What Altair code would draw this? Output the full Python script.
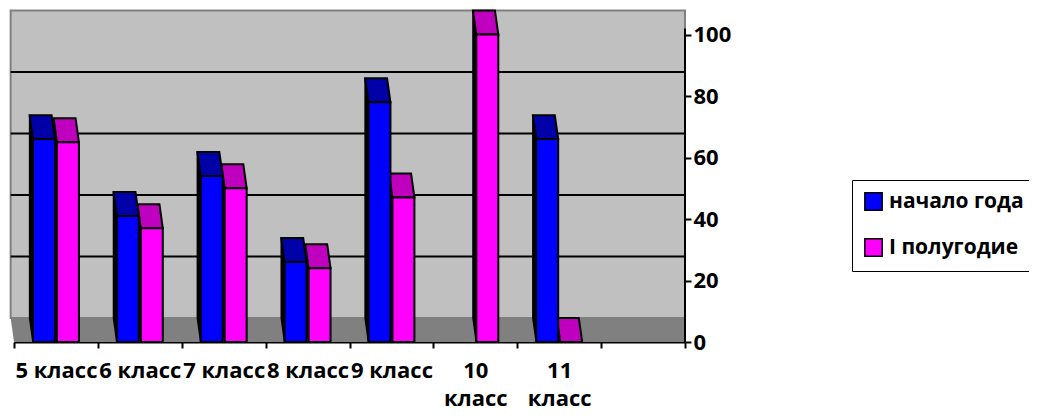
import json
import altair as alt
import pandas as pd

# ---------------- data ----------------
categories = ["5 класс", "6 класс", "7 класс", "8 класс", "9 класс", "10 класс", "11 класс", ""]
series = ["начало года", "I полугодие"]
start_values = [66, 41, 54, 26, 78, None, 66, None]
half_values = [65, 37, 50, 24, 47, 100, 0, None]
y_ticks = [0, 20, 40, 60, 80, 100]

# ---------------- style ----------------
FRONT = {"начало года": "#0000FF", "I полугодие": "#FF00FF"}
TOP = {"начало года": "#0000A8", "I полугодие": "#BF00BF"}
WALL = "#C0C0C0"
FLOOR = "#808080"
FONT = "Open Sans"

W, H = 671, 332
N = len(categories)
Y_MAX = 108
DEPTH_Y = 7.8      # 3-D depth, value units
DEPTH_X = 0.04     # 3-D depth, slot units
BAR_OFF = {"начало года": 0.226, "I полугодие": 0.512}
BAR_W = 0.262
AXIS_TOP = 102

values = {"начало года": start_values, "I полугодие": half_values}

front_rows, cap_rows, side_rows = [], [], []
bid = 0
for s in series:
    for i, v in enumerate(values[s]):
        if v is None:
            continue
        x0 = i + BAR_OFF[s]
        x1 = x0 + BAR_W
        front_rows.append({"series": s, "x0": x0, "x1": x1, "v": v})
        cap_rows.append({"id": bid, "series": s, "y": v, "xa": x0, "xb": x1})
        cap_rows.append({"id": bid, "series": s, "y": v + DEPTH_Y, "xa": x0 - DEPTH_X, "xb": x1 - DEPTH_X})
        side_rows.append({"id": bid, "series": s, "x": x0 - DEPTH_X, "ylo": DEPTH_Y, "yhi": v + DEPTH_Y})
        side_rows.append({"id": bid, "series": s, "x": x0, "ylo": 0, "yhi": v})
        bid += 1

front_df = pd.DataFrame(front_rows)
cap_df = pd.DataFrame(cap_rows)
side_df = pd.DataFrame(side_rows)

wall_df = pd.DataFrame([{"x0": -DEPTH_X, "x1": N, "y0": DEPTH_Y, "y1": y_ticks[-1] + DEPTH_Y}])
floor_df = pd.DataFrame([
    {"y": 0, "xa": 0, "xb": N},
    {"y": DEPTH_Y, "xa": -DEPTH_X, "xb": N},
])
grid_df = pd.DataFrame([{"y": t + DEPTH_Y, "x0": -DEPTH_X, "x1": N} for t in y_ticks[1:-1]])
axis_df = pd.DataFrame([{"x": N, "y0": 0, "y1": AXIS_TOP}])

label_lines = [[c] if len(c) <= 7 else c.split(" ") for c in categories]
label_expr = json.dumps(label_lines, ensure_ascii=False) + "[round(datum.value)]"

xs = alt.Scale(domain=[0, N], nice=False, zero=False)
ys = alt.Scale(domain=[0, Y_MAX], nice=False, zero=False)

X_AXIS = alt.Axis(
    values=list(range(N + 1)), title=None, grid=False,
    domainColor="black", domainWidth=2, tickColor="black", tickWidth=2, tickSize=6,
    labelExpr=label_expr, labelOffset=W / N / 2, labelPadding=12,
    labelFont=FONT, labelFontSize=22, labelFontWeight="bold", labelColor="black",
    labelLineHeight=28, labelOverlap=False, labelFlush=False, labelBound=False,
    labelAlign="center", labelBaseline="top",
)
Y_AXIS = alt.Axis(
    orient="right", values=y_ticks, title=None, grid=False, domain=False,
    tickColor="black", tickWidth=2, tickSize=6, labelPadding=2,
    labelFont=FONT, labelFontSize=22, labelFontWeight="bold", labelColor="black",
)

wall = alt.Chart(wall_df).mark_rect(fill=WALL, stroke="#808080", strokeWidth=2).encode(
    x=alt.X("x0:Q", scale=xs, axis=X_AXIS), x2="x1:Q",
    y=alt.Y("y0:Q", scale=ys, axis=Y_AXIS), y2="y1:Q",
)
floor = alt.Chart(floor_df).mark_area(orient="horizontal", fill=FLOOR, stroke=None).encode(
    y=alt.Y("y:Q", scale=ys, axis=Y_AXIS),
    x=alt.X("xa:Q", scale=xs, axis=X_AXIS), x2="xb:Q",
)
grid = alt.Chart(grid_df).mark_rule(color="black", strokeWidth=2).encode(
    x=alt.X("x0:Q", scale=xs, axis=X_AXIS), x2="x1:Q",
    y=alt.Y("y:Q", scale=ys, axis=Y_AXIS),
)
yline = alt.Chart(axis_df).mark_rule(color="black", strokeWidth=2).encode(
    x=alt.X("x:Q", scale=xs, axis=X_AXIS),
    y=alt.Y("y0:Q", scale=ys, axis=Y_AXIS), y2="y1:Q",
)

color_scale = alt.Scale(domain=series, range=[FRONT[s] for s in series])
legend = alt.Legend(
    title=None, orient="none", legendX=838, legendY=170, padding=11,
    strokeColor="black", fillColor="white",
    symbolType="square", symbolSize=300, symbolStrokeColor="black", symbolStrokeWidth=1.5,
    symbolOpacity=1, labelFont=FONT, labelFontSize=21, labelFontWeight="bold",
    labelColor="black", rowPadding=21, labelOffset=5,
)

bar_layers = []
for s in reversed(series):  # right-hand bars first, left ones drawn over them
    side = alt.Chart(side_df).transform_filter(alt.datum.series == s).mark_area(
        orient="vertical", fill="black", stroke="black", strokeWidth=1.5
    ).encode(
        x=alt.X("x:Q", scale=xs, axis=X_AXIS),
        y=alt.Y("ylo:Q", scale=ys, axis=Y_AXIS), y2="yhi:Q",
        detail="id:N",
    )
    cap = alt.Chart(cap_df).transform_filter(alt.datum.series == s).mark_area(
        orient="horizontal", fill=TOP[s], stroke="black", strokeWidth=2
    ).encode(
        y=alt.Y("y:Q", scale=ys, axis=Y_AXIS),
        x=alt.X("xa:Q", scale=xs, axis=X_AXIS), x2="xb:Q",
        detail="id:N",
    )
    front = alt.Chart(front_df).transform_filter(alt.datum.series == s).mark_rect(
        stroke="black", strokeWidth=2
    ).encode(
        x=alt.X("x0:Q", scale=xs, axis=X_AXIS), x2="x1:Q",
        y=alt.Y("v:Q", scale=ys, axis=Y_AXIS), y2=alt.datum(0),
        color=alt.Color("series:N", scale=color_scale, legend=legend),
    )
    bar_layers += [side, cap, front]

chart = alt.layer(wall, floor, grid, *bar_layers, yline).properties(
    width=W, height=H,
    autosize=alt.AutoSizeParams(type="none"),
    padding={"left": 6, "top": 2, "right": 344, "bottom": 70},
    background="white",
).configure_view(stroke=None)

chart.save("out.html", embed_options={"renderer": "svg", "actions": False})
